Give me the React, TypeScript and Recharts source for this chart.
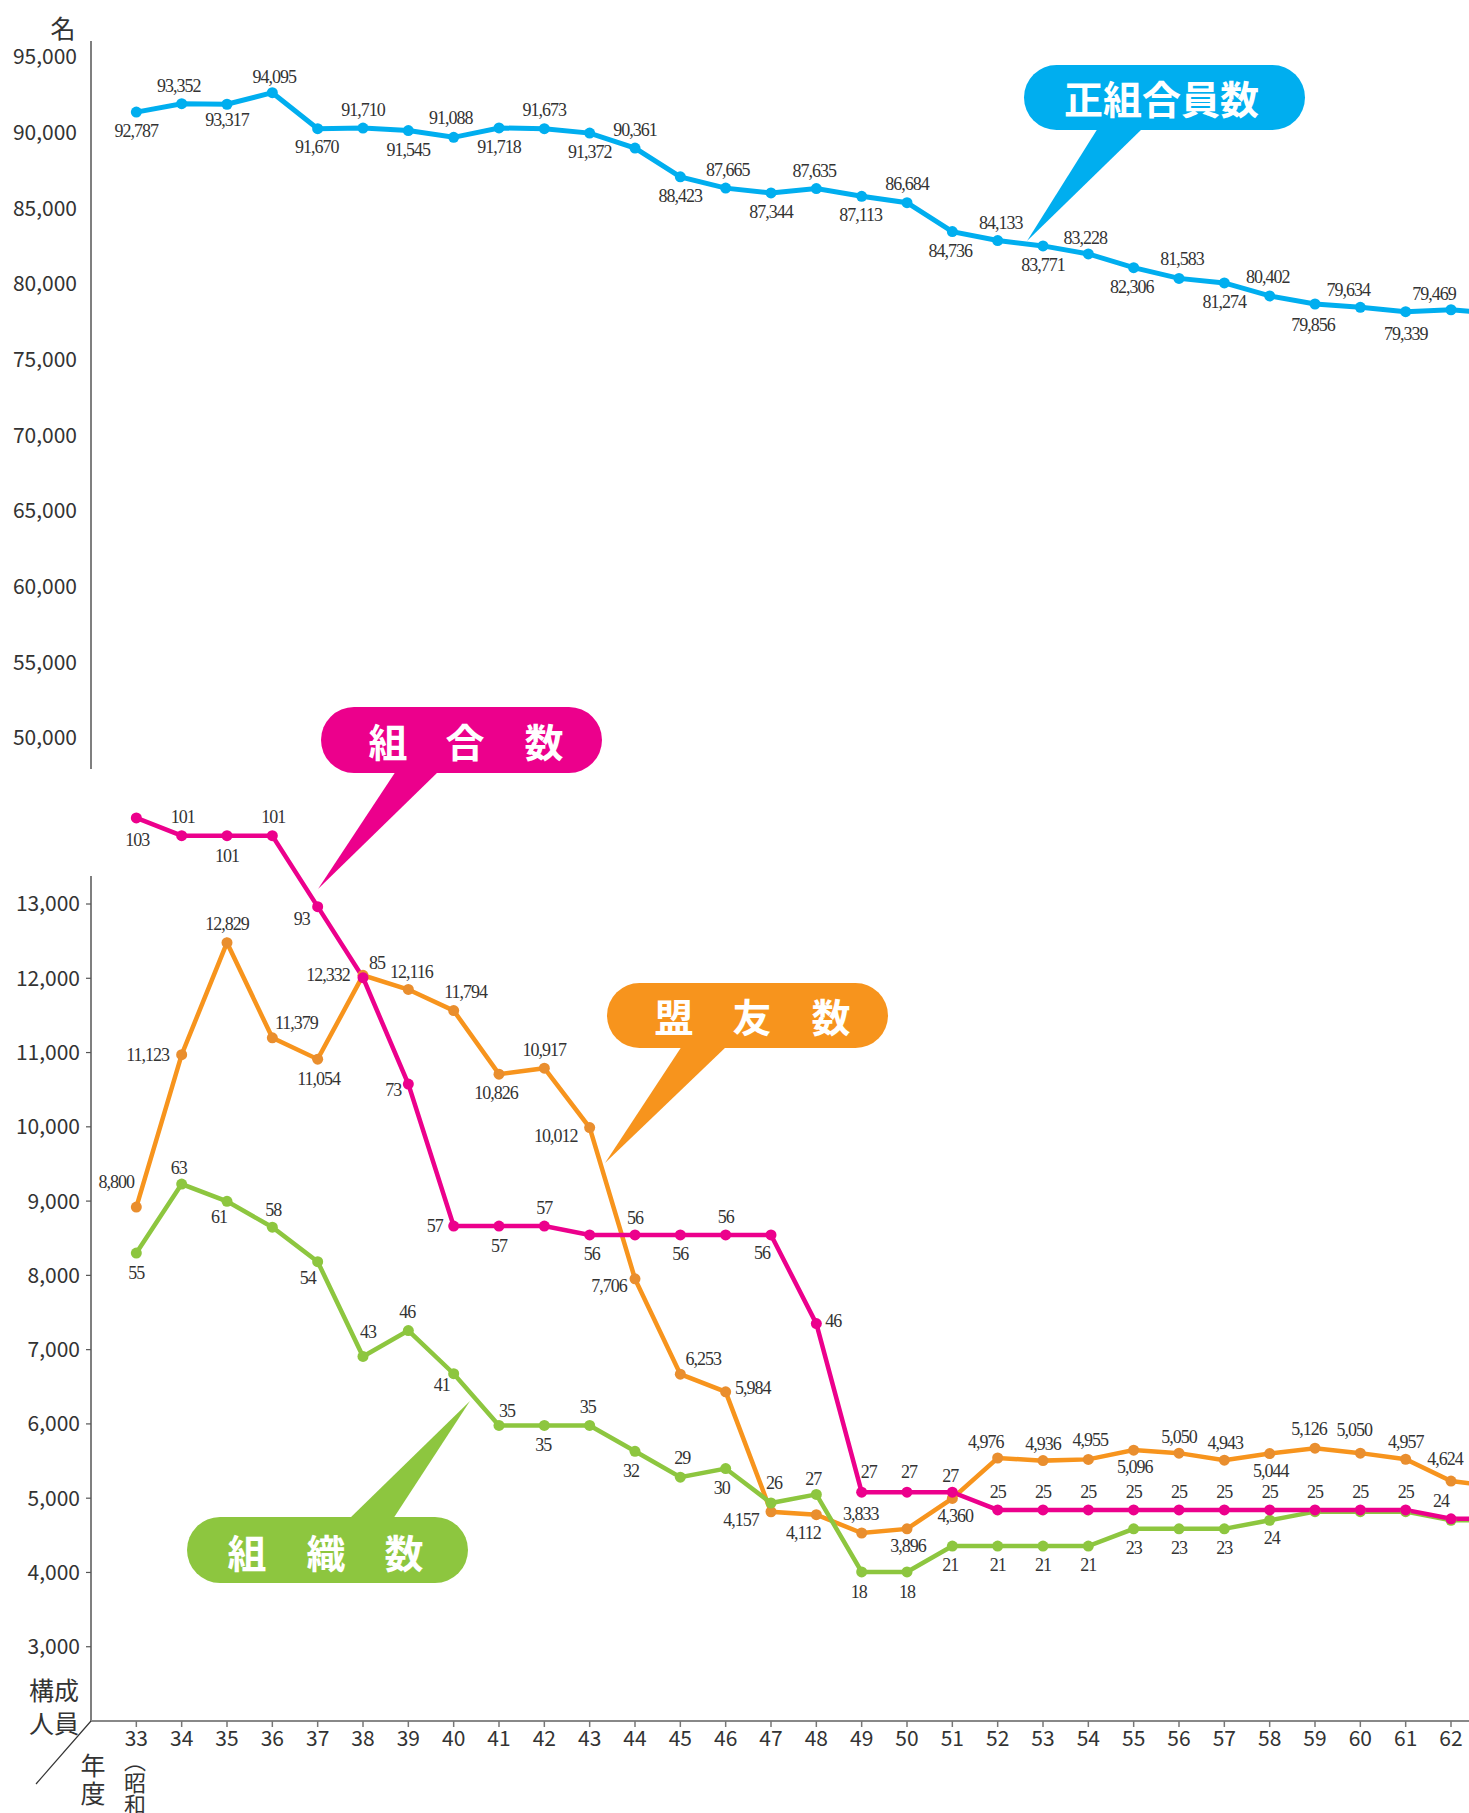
import React from 'react';
import { LineChart, Line, XAxis, YAxis, ReferenceLine } from 'recharts';

// ---- data ----
const years = [33, 34, 35, 36, 37, 38, 39, 40, 41, 42, 43, 44, 45, 46, 47, 48, 49, 50, 51, 52, 53, 54, 55, 56, 57, 58, 59, 60, 61, 62, 63];
const tickYears = [33, 34, 35, 36, 37, 38, 39, 40, 41, 42, 43, 44, 45, 46, 47, 48, 49, 50, 51, 52, 53, 54, 55, 56, 57, 58, 59, 60, 61, 62];
const seikumiaiin = [92787, 93352, 93317, 94095, 91670, 91710, 91545, 91088, 91718, 91673, 91372, 90361, 88423, 87665, 87344, 87635, 87113, 86684, 84736, 84133, 83771, 83228, 82306, 81583, 81274, 80402, 79856, 79634, 79339, 79469, 79200];
const meiyu = [8800, 11123, 12829, 11379, 11054, 12332, 12116, 11794, 10826, 10917, 10012, 7706, 6253, 5984, 4157, 4112, 3833, 3896, 4360, 4976, 4936, 4955, 5096, 5050, 4943, 5044, 5126, 5050, 4957, 4624, 4540];
const kumiai = [103, 101, 101, 101, 93, 85, 73, 57, 57, 57, 56, 56, 56, 56, 56, 46, 27, 27, 27, 25, 25, 25, 25, 25, 25, 25, 25, 25, 25, 24, 24];
const soshiki = [55, 63, 61, 58, 54, 43, 46, 41, 35, 35, 35, 32, 29, 30, 26, 27, 18, 18, 21, 21, 21, 21, 23, 23, 23, 24, 25, 25, 25, 24, 24];
const topTicks = [50000, 55000, 60000, 65000, 70000, 75000, 80000, 85000, 90000, 95000];
const bottomTicks = [3000, 4000, 5000, 6000, 7000, 8000, 9000, 10000, 11000, 12000, 13000];

const data = years.map((year, i) => ({
  year,
  seikumiaiin: seikumiaiin[i],
  meiyu: meiyu[i],
  kumiai: kumiai[i],
  soshiki: soshiki[i],
}));

// ---- label placement (dx, dy from point) ----
type Off = number[] | null;
const blueOffsets: Off[] = [
  [0, 19], [-3, -18], [0, 16], [2, -16], [-1, 18], [0, -18], [0, 19], [-3, -19], [0, 19], [0, -19],
  [0, 19], [0, -18], [0, 19], [2, -18], [0, 19], [-2, -18], [-1, 19], [0, -19], [-2, 19], [3, -18],
  [0, 19], [-3, -16], [-2, 19], [3, -19], [0, 19], [-2, -19], [-2, 21], [-12, -17], [0, 22], [-17, -16], null,
];
const orangeOffsets: Off[] = [
  [-20, -25], [-34, 0], [0, -19], [24, -15], [1, 20], [-35, 0], [3, -17], [12, -19], [-3, 19], [0, -18],
  [-34, 8], [-26, 7], [23, -15], [27, -4], [-30, 8], [-13, 18], [-1, -19], [1, 17], [3, 18], [-12, -16],
  [0, -17], [2, -19], [1, 17], [0, -16], [1, -17], [1, 17], [-6, -19], [-6, -23], [0, -17], [-6, -22], null,
];
const pinkOffsets: Off[] = [
  [1, 22], [1, -19], [0, 20], [1, -19], [-16, 12], [14, -15], [-15, 6], [-19, 0], [0, 20], [0, -18],
  [2, 19], [0, -17], [0, 19], [0, -18], [-9, 18], [17, -3], [7, -20], [2, -20], [-2, -16], [0, -18],
  [0, -18], [0, -18], [0, -18], [0, -18], [0, -18], [0, -18], [0, -18], [0, -18], [0, -18], [-10, -18], null,
];
const greenOffsets: Off[] = [
  [0, 20], [-3, -16], [-8, 16], [1, -17], [-10, 16], [5, -24], [-1, -19], [-12, 11], [8, -14], [-1, 20],
  [-2, -18], [-4, 20], [2, -19], [-4, 19], [3, -20], [-3, -15], [-3, 20], [0, 20], [-2, 19], [0, 19],
  [0, 19], [0, 19], [0, 19], [0, 19], [0, 19], [2, 18], null, null, null, null, null,
];

const BLUE = '#00AEEF';
const PINK = '#EC008C';
const ORANGE = '#F7941D';
const ORANGE_DOT = '#E98E2E';
const GREEN = '#8DC63F';

const SANS = '"Noto Sans CJK JP", "Noto Sans", sans-serif';
const labelStyle: React.CSSProperties = {
  fontFamily: '"Liberation Serif", "DejaVu Serif", serif',
  fontSize: 18,
  letterSpacing: '-1px',
  fill: '#333',
};
const tickStyle = { fill: '#333', fontSize: 21, fontFamily: SANS };

const fmt = (n: number) => Number(n).toLocaleString('en-US');

const makeDot = (color: string, key: string, offsets: Off[], r = 5.5) => (props: any) => {
  const { cx, cy, index, payload } = props;
  if (cx == null || cy == null) return <g key={`${key}-${index}`} />;
  const off = offsets[index];
  const v = payload ? payload[key] : props.value;
  return (
    <g key={`${key}-${index}`}>
      <circle cx={cx} cy={cy} r={r} fill={color} stroke="none" />
      {off && (
        <text x={cx + off[0]} y={cy + off[1]} textAnchor="middle" dominantBaseline="central" style={labelStyle}>
          {fmt(v)}
        </text>
      )}
    </g>
  );
};

function Callout({ x, y, w, h, tri, color, text, chars, cy }: any) {
  return (
    <g>
      <rect x={x} y={y} width={w} height={h} rx={h / 2} ry={h / 2} fill={color} />
      <polygon points={tri.map((p: number[]) => p.join(',')).join(' ')} fill={color} />
      {text && (
        <text x={x + w / 2 - 3} y={cy} textAnchor="middle" dominantBaseline="central"
          style={{ fontFamily: SANS, fontWeight: 700, fontSize: 39, fill: '#fff' }}>{text}</text>
      )}
      {chars &&
        chars.map((c: [string, number], i: number) => (
          <text key={i} x={c[1]} y={cy} textAnchor="middle" dominantBaseline="central"
            style={{ fontFamily: SANS, fontWeight: 700, fontSize: 39, fill: '#fff' }}>{c[0]}</text>
        ))}
    </g>
  );
}

export default function App() {
  return (
    <div style={{ position: 'absolute', left: 0, top: 0, width: 1469, height: 1813, overflow: 'hidden', background: '#fff' }}>
      {/* top panel */}
      <div style={{ position: 'absolute', left: 0, top: 0 }}>
        <LineChart width={1519} height={780} data={data} margin={{ top: 41, right: 0, bottom: 11, left: 0 }}>
          <XAxis dataKey="year" type="number" domain={[32, 63.5]} hide />
          <YAxis yAxisId="axis" type="number" domain={[47953, 96037]} ticks={topTicks} width={91}
            tickLine={false} tickSize={0} tickMargin={14} axisLine={{ stroke: '#555', strokeWidth: 1.5 }}
            tick={tickStyle} tickFormatter={fmt} interval={0} />
          <YAxis yAxisId="blue" orientation="right" type="number" domain={[48522, 97579]} hide />
          <Line yAxisId="axis" dataKey="seikumiaiin" stroke="none" strokeWidth={0} dot={false} activeDot={false}
            legendType="none" isAnimationActive={false} />
          <Line yAxisId="blue" dataKey="seikumiaiin" stroke={BLUE} strokeWidth={5}
            dot={makeDot(BLUE, 'seikumiaiin', blueOffsets, 5.5)} activeDot={false} isAnimationActive={false} />
        </LineChart>
      </div>

      {/* bottom panel */}
      <div style={{ position: 'absolute', left: 0, top: 780 }}>
        <LineChart width={1519} height={1033} data={data} margin={{ top: 10, right: 0, bottom: 0, left: 0 }}>
          <XAxis dataKey="year" type="number" domain={[32, 63.5]} ticks={tickYears} interval={0} height={92}
            tickSize={6} tickMargin={4} axisLine={{ stroke: '#888', strokeWidth: 2 }}
            tickLine={{ stroke: '#777', strokeWidth: 1.5 }} tick={tickStyle} />
          <YAxis yAxisId="left" type="number" domain={[2000, 14535]} ticks={bottomTicks} width={91}
            axisLine={false} tickSize={5} tickMargin={6} tickLine={{ stroke: '#555', strokeWidth: 1.2 }}
            tick={tickStyle} tickFormatter={fmt} interval={0} />
          <YAxis yAxisId="orange" orientation="right" type="number" domain={[968, 15156]} hide />
          <YAxis yAxisId="pink" orientation="right" type="number" domain={[1.204, 106.15]} hide />
          <YAxis yAxisId="green" orientation="right" type="number" domain={[0.71, 108.72]} hide />
          <Line yAxisId="left" dataKey="meiyu" stroke="none" strokeWidth={0} dot={false} activeDot={false}
            legendType="none" isAnimationActive={false} />
          <ReferenceLine yAxisId="left" ifOverflow="visible" segment={[{ x: 32, y: 13377 }, { x: 32, y: 2000 }]}
            stroke="#555" strokeWidth={1.5} />
          <Line yAxisId="orange" dataKey="meiyu" stroke={ORANGE} strokeWidth={4.5}
            dot={makeDot(ORANGE_DOT, 'meiyu', orangeOffsets, 5.5)} activeDot={false} isAnimationActive={false} />
          <Line yAxisId="green" dataKey="soshiki" stroke={GREEN} strokeWidth={4.5}
            dot={makeDot(GREEN, 'soshiki', greenOffsets, 5.5)} activeDot={false} isAnimationActive={false} />
          <Line yAxisId="pink" dataKey="kumiai" stroke={PINK} strokeWidth={4.5}
            dot={makeDot(PINK, 'kumiai', pinkOffsets, 5.5)} activeDot={false} isAnimationActive={false} />
        </LineChart>
      </div>

      {/* annotations */}
      <svg width={1469} height={1813} style={{ position: 'absolute', left: 0, top: 0, pointerEvents: 'none' }}>
        <text x={63} y={27} textAnchor="middle" dominantBaseline="central" style={{ fontFamily: SANS, fontSize: 25, fill: '#333' }}>名</text>
        <text x={79} y={1689} textAnchor="end" dominantBaseline="central" style={{ fontFamily: SANS, fontSize: 25, fill: '#333' }}>構成</text>
        <text x={79} y={1722} textAnchor="end" dominantBaseline="central" style={{ fontFamily: SANS, fontSize: 25, fill: '#333' }}>人員</text>
        <text x={93} y={1764} textAnchor="middle" dominantBaseline="central" style={{ fontFamily: SANS, fontSize: 25, fill: '#333' }}>年</text>
        <text x={93} y={1792} textAnchor="middle" dominantBaseline="central" style={{ fontFamily: SANS, fontSize: 25, fill: '#333' }}>度</text>
        <line x1={91} y1={1721} x2={36} y2={1784} stroke="#333" strokeWidth={1.2} />

        <Callout x={1024} y={65} w={281} h={65} color={BLUE} cy={97}
          tri={[[1098, 128], [1143, 128], [1027, 241]]} text="正組合員数" />
        <Callout x={321} y={707} w={281} h={66} color={PINK} cy={740}
          tri={[[396, 771], [439, 771], [318, 889]]} chars={[['組', 388], ['合', 465], ['数', 544]]} />
        <Callout x={607} y={983} w={281} h={65} color={ORANGE} cy={1015}
          tri={[[682, 1046], [727, 1046], [605, 1163]]} chars={[['盟', 674], ['友', 752], ['数', 831]]} />
        <Callout x={187} y={1517} w={281} h={66} color={GREEN} cy={1551}
          tri={[[349, 1519], [393, 1519], [470, 1401]]} chars={[['組', 247], ['織', 326], ['数', 404]]} />
      </svg>
      <div style={{ position: 'absolute', left: 124, top: 1750, writingMode: 'vertical-rl', whiteSpace: 'nowrap', fontFamily: SANS, fontSize: 22, color: '#333', lineHeight: 1 }}>（昭和）</div>
    </div>
  );
}
